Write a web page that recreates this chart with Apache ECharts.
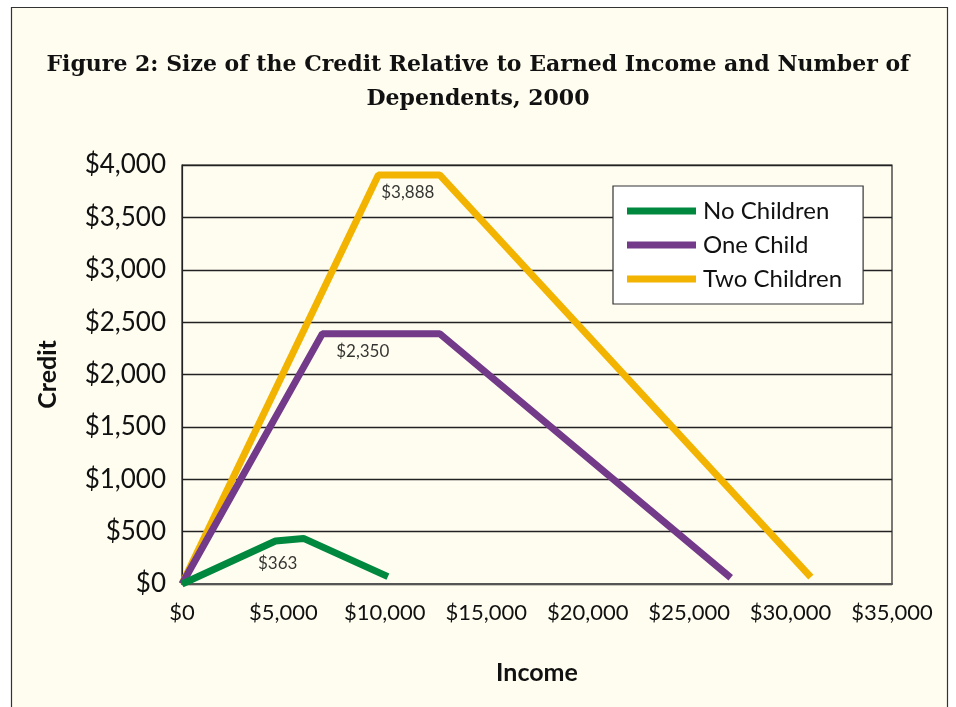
<!DOCTYPE html>
<html>
<head>
<meta charset="utf-8">
<script src="https://cdn.jsdelivr.net/npm/echarts@6/dist/echarts.min.js"></script>
<style>
html,body{margin:0;padding:0;background:#ffffff;}
#chart{width:956px;height:707px;}
</style>
</head>
<body>
<div id="chart"></div>
<script>
// Data (income $, credit $)
const seriesNames = ['No Children', 'One Child', 'Two Children'];
const noChildren = [[0, 0], [4610, 410], [5990, 435], [10150, 70]];
const oneChild = [[0, 0], [6920, 2390], [12700, 2390], [27050, 60]];
const twoChildren = [[0, 0], [9680, 3905], [12700, 3905], [31000, 65]];
// Annotation labels: [income, credit, text]
const annotations = [[11130, 3736, '$3,888'], [8910, 2215, '$2,350'], [4715, 191, '$363']];
const xTicks = [0, 5000, 10000, 15000, 20000, 25000, 30000, 35000];
const yTicks = [0, 500, 1000, 1500, 2000, 2500, 3000, 3500, 4000];

const colors = ['#00893E', '#733A8A', '#F2B400'];
const fmt = v => '$' + v.toLocaleString('en-US');
const sansFont = 'Lato';

const chart = echarts.init(document.getElementById('chart'));
chart.setOption({
  backgroundColor: '#ffffff',
  animation: false,
  graphic: [{
    type: 'rect', z: -10, silent: true,
    shape: { x: 11.5, y: 7.5, width: 936, height: 720 },
    style: { fill: '#FFFDF0', stroke: '#333333', lineWidth: 1.2 }
  }],
  title: {
    text: 'Figure 2: Size of the Credit Relative to Earned Income and Number of\nDependents, 2000',
    left: 'center', top: 43,
    textStyle: {
      fontFamily: 'DejaVu Serif', fontWeight: 'bold', fontSize: 22,
      lineHeight: 34, color: '#111111', align: 'center'
    }
  },
  legend: {
    orient: 'vertical',
    left: 613, top: 186,
    padding: [12, 21, 12, 14],
    backgroundColor: '#ffffff',
    borderColor: '#333333', borderWidth: 1.2,
    itemWidth: 69, itemHeight: 7, itemGap: 8,
    icon: 'rect',
    data: seriesNames,
    textStyle: { fontFamily: sansFont, fontSize: 24, color: '#111111', lineHeight: 26, padding: [0, 0, 0, 2] }
  },
  grid: { left: 182, right: 64, top: 165, bottom: 123, show: true, borderColor: '#222222', borderWidth: 1.2, backgroundColor: 'transparent' },
  xAxis: {
    type: 'value', min: 0, max: 35000, interval: 5000,
    name: 'Income', nameLocation: 'middle', nameGap: 76,
    nameTextStyle: { fontFamily: sansFont, fontWeight: 'bold', fontSize: 25, color: '#111111' },
    axisLine: { show: true, lineStyle: { color: '#555555', width: 2 } },
    axisTick: { show: false },
    splitLine: { show: false },
    axisLabel: { formatter: fmt, fontFamily: sansFont, fontSize: 22, color: '#111111', margin: 18,
      customValues: xTicks }
  },
  yAxis: {
    type: 'value', min: 0, max: 4000, interval: 500,
    name: 'Credit', nameLocation: 'middle', nameGap: 122,
    nameTextStyle: { fontFamily: sansFont, fontWeight: 'bold', fontSize: 25, color: '#111111' },
    axisLine: { show: true, lineStyle: { color: '#222222', width: 1.2 } },
    axisTick: { show: false },
    splitLine: { show: true, lineStyle: { color: '#222222', width: 1.4 } },
    axisLabel: { formatter: fmt, fontFamily: sansFont, fontSize: 26, color: '#111111', margin: 16 }
  },
  series: [
    { name: seriesNames[0], type: 'line', data: noChildren, symbol: 'none', color: colors[0],
      lineStyle: { width: 7, color: colors[0] }, z: 4 },
    { name: seriesNames[1], type: 'line', data: oneChild, symbol: 'none', color: colors[1],
      lineStyle: { width: 7, color: colors[1] }, z: 3 },
    { name: seriesNames[2], type: 'line', data: twoChildren, symbol: 'none', color: colors[2],
      lineStyle: { width: 7, color: colors[2] }, z: 2 },
    { name: 'labels', type: 'scatter', data: annotations.map(a => ({ value: [a[0], a[1]], label: { formatter: a[2] } })),
      symbolSize: 0, silent: true, z: 6,
      label: { show: true, position: 'inside', fontFamily: sansFont, fontSize: 17, color: '#000000' } }
  ]
});
</script>
</body>
</html>
